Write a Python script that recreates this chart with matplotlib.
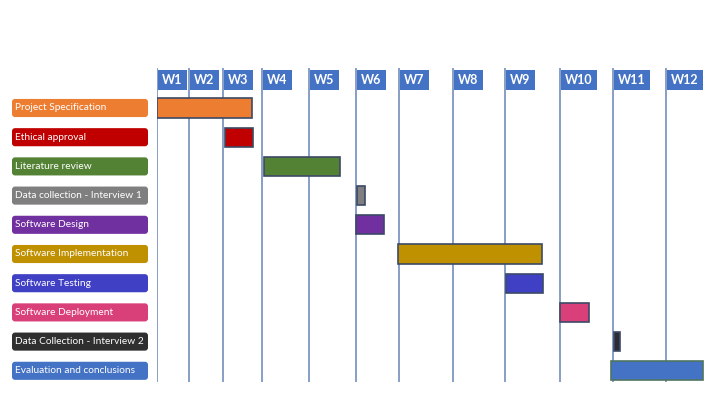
import numpy as np
import matplotlib.pyplot as plt
from matplotlib.patches import FancyBboxPatch

plt.rcParams['font.family'] = ['Lato', 'DejaVu Sans']

tasks = ['Project Specification', 'Ethical approval', 'Literature review',
         'Data collection - Interview 1', 'Software Design',
         'Software Implementation', 'Software Testing', 'Software Deployment',
         'Data Collection - Interview 2', 'Evaluation and conclusions']
# start / end in weeks (week n starts at n)
starts = [1.0, 3.05, 4.05, 6.02, 6.0, 6.98, 9.02, 10.0, 11.02, 10.97]
ends = [3.75, 3.77, 5.66, 6.22, 6.64, 9.67, 9.69, 10.55, 11.14, 12.7]
colors = ['#ED7D31', '#C00000', '#548235', '#7F7F7F', '#7030A0',
          '#BF9000', '#4040C4', '#D9407A', '#2F2F2F', '#4472C4']
bar_colors = colors[:8] + ['#2B2B35', '#4472C4']
edge_colors = ['#3C4A66'] * 9 + ['#4E7560']
weeks = ['W1', 'W2', 'W3', 'W4', 'W5', 'W6', 'W7', 'W8', 'W9', 'W10', 'W11', 'W12']

# the original slide has unevenly spaced week columns (pixel positions)
week_idx = np.arange(0, 15)
week_px = np.array([125, 157, 189, 223, 262, 309, 356, 399, 453, 505, 560,
                    613, 666, 719, 772], dtype=float)


def fwd(w):
    return np.interp(w, week_idx, week_px)


def inv(p):
    return np.interp(p, week_px, week_idx)


W, H = 720, 405
fig = plt.figure(figsize=(7.2, 4.05), dpi=100)
fig.patch.set_facecolor('white')

x_end = 12.9
top_px, bot_px = 60, 390
row0_px, row_step = 108, 29.2
y_top = (top_px - row0_px) / row_step
y_bot = (bot_px - row0_px) / row_step

ax = fig.add_axes([157 / W, 1 - bot_px / H, (fwd(x_end) - 157) / W,
                   (bot_px - top_px) / H])
ax.set_xscale('function', functions=(fwd, inv))
ax.set_xlim(1, x_end)
ax.set_ylim(y_bot, y_top)
ax.axis('off')

rows = np.arange(len(tasks))
dur = np.array(ends) - np.array(starts)

# week grid lines
line_top = (68 - row0_px) / row_step
line_bot = (382 - row0_px) / row_step
ax.vlines(np.arange(1, 13), line_bot, line_top, color='#7F96C2', lw=1.3, zorder=1)

ax.barh(rows, dur, left=starts, height=0.66, color=bar_colors,
        edgecolor=edge_colors, lw=1.2, zorder=2)

# week headers
hdr_y = (80 - row0_px) / row_step
for i, w in enumerate(weeks):
    ax.annotate(w, xy=(i + 1, hdr_y), xytext=(3.6, 0), textcoords='offset points',
                ha='left', va='center', color='white', fontsize=9, fontweight='bold',
                bbox=dict(boxstyle='square,pad=0.35', fc='#4472C4', ec='none'),
                zorder=4)

# task labels on the left
ax_l = fig.add_axes([0, 1 - bot_px / H, 157 / W, (bot_px - top_px) / H])
ax_l.set_xlim(0, 157)
ax_l.set_ylim(y_bot, y_top)
ax_l.axis('off')
asp = (y_bot - y_top) / (bot_px - top_px)
for r, (t, c) in enumerate(zip(tasks, colors)):
    box = FancyBboxPatch((12, r - 0.31), 136, 0.62,
                         boxstyle='round,pad=0,rounding_size=3',
                         mutation_aspect=asp, fc=c, ec='none')
    ax_l.add_patch(box)
    ax_l.text(15, r, t, ha='left', va='center', color='white', fontsize=7.3)

fig.savefig('out.png', dpi=100, facecolor='white')
